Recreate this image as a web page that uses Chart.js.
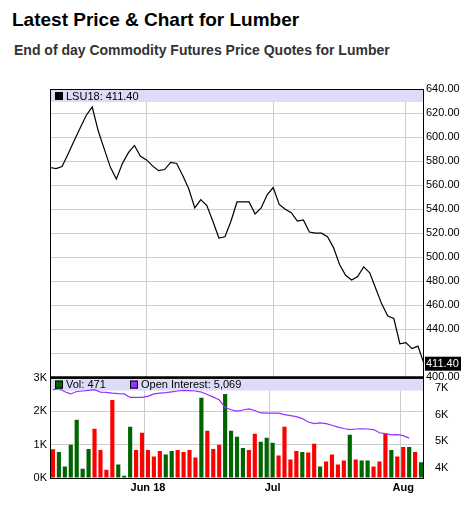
<!DOCTYPE html>
<html>
<head>
<meta charset="utf-8">
<script src="https://cdn.jsdelivr.net/npm/chart.js@4"></script>
<style>
  body { margin: 0; background: #fff; font-family: "Liberation Sans", Arial, sans-serif; }
  h1 { position: absolute; left: 12px; top: 9px; margin: 0; font-size: 19px; color: #000; }
  h2 { position: absolute; left: 14px; top: 42px; margin: 0; font-size: 14px; color: #333; }
  #wrapPrice { position: absolute; left: 0; top: 80px; width: 476px; height: 306px; }
  #wrapVol { position: absolute; left: 0; top: 368px; width: 476px; height: 130px; }
</style>
</head>
<body>
<h1>Latest Price &amp; Chart for Lumber</h1>
<h2>End of day Commodity Futures Price Quotes for Lumber</h2>
<div id="wrapPrice"><canvas id="price"></canvas></div>
<div id="wrapVol"><canvas id="vol"></canvas></div>
<script>
// 63 trading sessions; only three get a date label
const monthLabels = { 16: 'Jun 18', 37: 'Jul', 59: 'Aug' };
const closes = [574.7, 573.8, 575.5, 586, 597, 607.5, 618, 625, 605, 590, 575, 565, 578, 587, 593,
  584, 581, 576, 572, 573, 579, 578, 568, 557, 541, 548, 543, 530, 516, 517, 530, 546, 546, 546,
  536, 541, 552, 558, 544, 540, 537, 530, 531, 521, 520, 520, 517, 508, 494, 485, 481, 484, 492,
  487, 474, 461, 451, 449, 428, 429, 424, 426, 411.4];
const volumes = [860, 780, 340, 990, 1740, 280, 870, 1470, 840, 250, 2330, 400, 70, 1530, 840, 1350,
  840, 640, 810, 700, 810, 840, 780, 840, 610, 2400, 1410, 870, 990, 2510, 1410, 1230, 900, 840,
  1320, 1080, 1200, 1050, 670, 1530, 550, 810, 780, 760, 1020, 340, 490, 700, 400, 520, 1290, 550,
  520, 520, 340, 490, 1330, 840, 640, 930, 930, 780, 471];
const volUp = [0, 1, 1, 1, 1, 1, 1, 0, 0, 0, 0, 1, 1, 1, 0, 0, 0, 0, 0, 1, 1, 0, 0, 0, 0, 1, 0, 0, 0,
  1, 1, 1, 1, 0, 0, 1, 1, 1, 0, 0, 0, 0, 1, 0, 0, 1, 0, 0, 0, 0, 1, 0, 1, 1, 0, 0, 0, 1, 0, 0, 1, 0, 1];
const openInterest = [6930, 6970, 6850, 6770, 6860, 6880, 6900, 6930, 6840, 6830, 6800, 6780, 6770,
  6640, 6640, 6640, 6680, 6770, 6800, 6820, 6850, 6880, 6900, 6890, 6880, 6840, 6750, 6650, 6550,
  6260, 6180, 6130, 6170, 6210, 6150, 6060, 6050, 6050, 6050, 6000, 5960, 5920, 5850, 5720, 5660,
  5690, 5660, 5600, 5530, 5480, 5440, 5460, 5470, 5460, 5440, 5320, 5290, 5240, 5250, 5210, 5120, null, null];
const labels = closes.map((_, i) => monthLabels[i] || '');

const tickFont = { family: '"Liberation Sans", Arial, sans-serif', size: 11 };
const gridX = c => (monthLabels[c.index] ? '#cccccc' : 'rgba(0,0,0,0)');
const band = '#dcdcf8';

// lavender legend strip + frame on top of each panel
function panelPlugin(items, lastPrice) {
  return {
    id: 'panel',
    beforeDatasetsDraw(chart) {
      const a = chart.chartArea, ctx = chart.ctx;
      ctx.save();
      ctx.fillStyle = band;
      ctx.fillRect(a.left, a.top + 1, a.right - a.left, 12);
      ctx.restore();
    },
    afterDraw(chart) {
      const a = chart.chartArea, ctx = chart.ctx;
      ctx.save();
      ctx.strokeStyle = '#000';
      ctx.lineWidth = 1;
      ctx.strokeRect(a.left + 0.5, a.top + 0.5, a.right - a.left - 1, a.bottom - a.top);
      if (!lastPrice) {
        ctx.lineWidth = 2.5;
        ctx.beginPath();
        ctx.moveTo(a.left, a.top);
        ctx.lineTo(a.right, a.top);
        ctx.stroke();
      }
      ctx.lineWidth = 1;
      ctx.font = '11px "Liberation Sans", Arial, sans-serif';
      ctx.textBaseline = 'middle';
      let x = a.left + 5;
      items.forEach(it => {
        ctx.fillStyle = it.color;
        ctx.fillRect(x, a.top + 3, 8, 8);
        ctx.strokeStyle = '#000';
        ctx.strokeRect(x + 0.5, a.top + 3.5, 7, 7);
        ctx.fillStyle = '#000';
        ctx.fillText(it.text, x + 11, a.top + 7.5);
        x += it.gap;
      });
      if (lastPrice) {
        const y = chart.scales.y.getPixelForValue(lastPrice);
        ctx.fillStyle = '#000';
        ctx.fillRect(a.right + 1, y - 7, 36, 14);
        ctx.fillStyle = '#fff';
        ctx.fillText(lastPrice.toFixed(2), a.right + 2, y);
      }
      ctx.restore();
    }
  };
}

new Chart(document.getElementById('price'), {
  type: 'line',
  data: {
    labels: labels,
    datasets: [{ data: closes, borderColor: '#000', borderWidth: 1.2, pointRadius: 0, tension: 0 }]
  },
  options: {
    responsive: true, maintainAspectRatio: false, animation: false,
    layout: { padding: { top: 9, left: 50, right: 0, bottom: 0 } },
    plugins: { legend: { display: false }, tooltip: { enabled: false } },
    scales: {
      x: { offset: false, afterFit: s => { s.height = 0; },
        ticks: { display: false, autoSkip: false }, grid: { color: gridX, drawTicks: false }, border: { display: false } },
      y: {
        position: 'right', min: 400, max: 640,
        afterFit: s => { s.width = 52; },
        ticks: { stepSize: 20, color: '#000', font: tickFont, padding: 2,
          callback: v => (v === 420 ? '' : v.toFixed(2)) },
        grid: { color: '#cccccc', drawTicks: false }, border: { display: false }
      }
    }
  },
  plugins: [panelPlugin([{ color: '#000', text: 'LSU18: 411.40', gap: 0 }], 411.4)]
});

new Chart(document.getElementById('vol'), {
  data: {
    labels: labels,
    datasets: [
      { type: 'line', data: openInterest, yAxisID: 'oi', borderColor: '#9b30ff', borderWidth: 1.2, pointRadius: 0, tension: 0 },
      { type: 'bar', data: volumes, yAxisID: 'y', backgroundColor: volUp.map(u => (u ? '#006400' : '#ff0000')),
        categoryPercentage: 1, barPercentage: 0.7 }
    ]
  },
  options: {
    responsive: true, maintainAspectRatio: false, animation: false,
    layout: { padding: { top: 0, left: 0, right: 0, bottom: 0 } },
    plugins: { legend: { display: false }, tooltip: { enabled: false } },
    scales: {
      x: {
        afterFit: s => { s.height = 20; },
        ticks: { autoSkip: false, maxRotation: 0, color: '#000', font: { ...tickFont, weight: 'bold' }, padding: 3 },
        grid: { color: gridX, drawTicks: false }, border: { display: false }
      },
      y: {
        position: 'left', min: 0, max: 3000,
        afterFit: s => { s.width = 50; },
        ticks: { stepSize: 1000, color: '#000', font: tickFont, padding: 3, callback: v => v / 1000 + 'K' },
        grid: { color: '#cccccc', drawTicks: false }, border: { display: false }
      },
      oi: {
        position: 'right', min: 3630, max: 7380,
        afterFit: s => { s.width = 52; },
        afterBuildTicks: s => { s.ticks = [4000, 5000, 6000, 7000].map(v => ({ value: v })); },
        ticks: { color: '#000', font: tickFont, padding: 3, callback: v => v / 1000 + 'K' },
        grid: { display: false }, border: { display: false }
      }
    }
  },
  plugins: [panelPlugin([
    { color: '#006400', text: 'Vol: 471', gap: 75 },
    { color: '#9b30ff', text: 'Open Interest: 5,069', gap: 0 }
  ])]
});
</script>
</body>
</html>
